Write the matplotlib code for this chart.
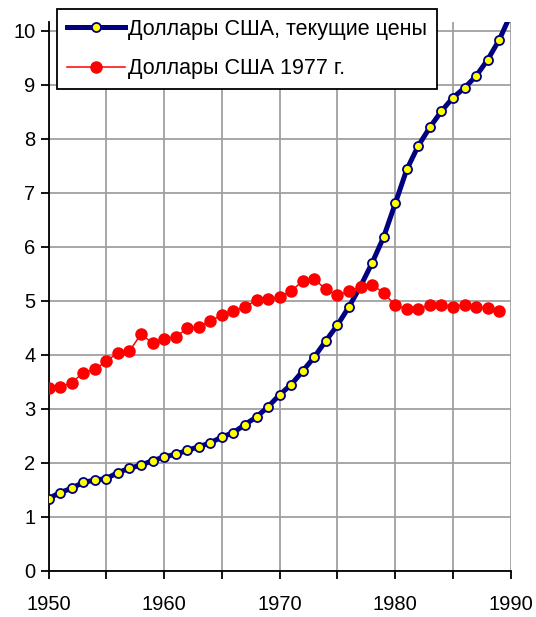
import matplotlib.pyplot as plt
import numpy as np

plt.rcParams['font.family'] = ['Liberation Sans', 'DejaVu Sans']

# годы и значения
years = list(range(1950, 1991))
current_usd = [1.34, 1.45, 1.53, 1.64, 1.68, 1.71, 1.82, 1.90, 1.96, 2.04,
               2.11, 2.16, 2.23, 2.30, 2.37, 2.48, 2.56, 2.71, 2.85, 3.04,
               3.26, 3.45, 3.70, 3.96, 4.26, 4.55, 4.89, 5.27, 5.70, 6.18,
               6.80, 7.43, 7.87, 8.21, 8.51, 8.76, 8.94, 9.16, 9.46, 9.83,
               10.30]
years_1977 = list(range(1950, 1990))
usd_1977 = [3.38, 3.41, 3.48, 3.67, 3.73, 3.88, 4.04, 4.07, 4.38, 4.22,
            4.30, 4.33, 4.49, 4.52, 4.63, 4.73, 4.81, 4.89, 5.01, 5.03,
            5.07, 5.18, 5.37, 5.40, 5.21, 5.10, 5.18, 5.26, 5.30, 5.14,
            4.92, 4.84, 4.84, 4.93, 4.93, 4.89, 4.93, 4.89, 4.86, 4.81]

label_current = 'Доллары США, текущие цены'
label_1977 = 'Доллары США 1977 г.'

fig = plt.figure(figsize=(5.36, 6.17), dpi=100)
ax = fig.add_axes([0.0905, 0.0746, 0.8625, 0.889])

ax.plot(years, current_usd, color='#000080', linewidth=3.6,
        marker='o', markersize=6.5, markerfacecolor='#FFFF00',
        markeredgecolor='#000080', markeredgewidth=1.3,
        markevery=list(range(len(years) - 1)), label=label_current, zorder=3)
ax.plot(years_1977, usd_1977, color='#FF0000', linewidth=1.1,
        marker='o', markersize=8, markerfacecolor='#FF0000',
        markeredgecolor='#FF0000', label=label_1977, zorder=4)

ax.set_xlim(1950, 1990)
ax.set_ylim(0, 10.15)
ax.set_xticks(np.arange(1950, 1991, 10))
ax.set_xticks(np.arange(1955, 1990, 10), minor=True)
ax.set_yticks(np.arange(0, 11, 1))

ax.grid(True, which='both', color='#a0a0a0', linewidth=1.3, zorder=0)
ax.set_axisbelow(True)
for s in ['top', 'right']:
    ax.spines[s].set_visible(False)
for s in ['left', 'bottom']:
    ax.spines[s].set_linewidth(1.3)
    ax.spines[s].set_color('black')

ax.tick_params(axis='both', which='both', direction='out', length=6,
               width=1.3, labelsize=14.5, colors='black')
ax.tick_params(axis='x', pad=11)

leg = fig.legend(loc='upper left', bbox_to_anchor=(0.106, 0.985),
                 fontsize=15.5, frameon=True, fancybox=False,
                 edgecolor='black', framealpha=1, borderaxespad=0,
                 handlelength=2.7, handletextpad=0.15, labelspacing=0.85,
                 borderpad=0.45)
leg.get_frame().set_linewidth(1.3)

fig.savefig('out.png', dpi=100)
